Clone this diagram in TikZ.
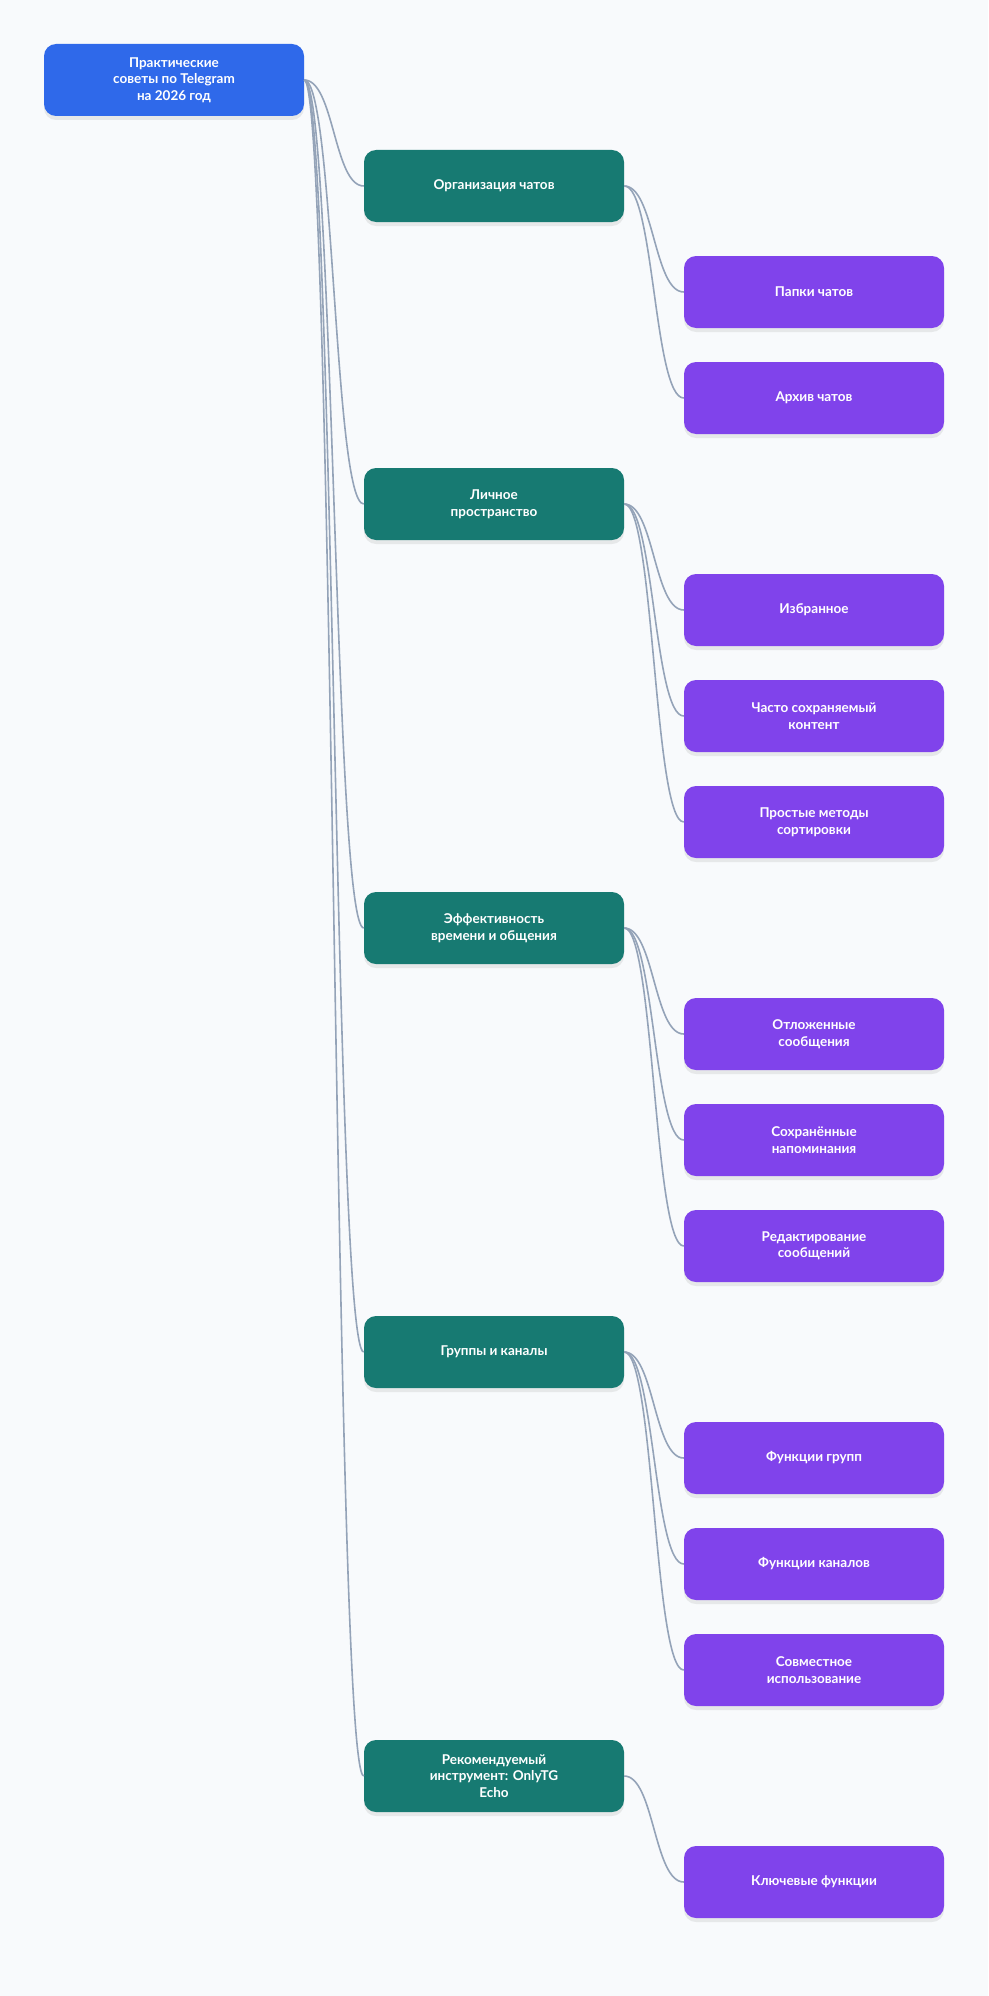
\documentclass[tikz,border=0pt]{standalone}
\usepackage{fontspec}
\setmainfont{Lato}
\usepackage{tikz}
\usetikzlibrary{shadows}
\definecolor{FonFon}{HTML}{F8FAFC}
\definecolor{KorenSiniy}{HTML}{2F69EA}
\definecolor{TemaZel}{HTML}{177A72}
\definecolor{PunktFiol}{HTML}{8043EB}
\definecolor{LiniyaSer}{HTML}{94A3B8}

\tikzset{
  box/.style={rounded corners=12pt,minimum width=260pt,minimum height=72pt,inner sep=0pt,
    text=white,align=center,font=\bfseries\fontsize{13.5}{16.5}\selectfont,
    drop shadow={shadow xshift=0pt,shadow yshift=-4pt,opacity=0.09,fill=black!80}},
  root/.style={box,fill=KorenSiniy},
  tema/.style={box,fill=TemaZel},
  punkt/.style={box,fill=PunktFiol},
  link/.style={draw=LiniyaSer,line width=1.6pt}
}

\begin{document}
\begin{tikzpicture}[x=1pt,y=-1pt]
  \fill[FonFon] (0,0) rectangle (988,1996);
  \useasboundingbox (0,0) rectangle (988,1996);

  % root
  \node[root] (koren) at (174,80) {Практические\\советы по Telegram\\на 2026 год};

  % topics
  \node[tema] (t1) at (494,186)  {Организация чатов};
  \node[tema] (t2) at (494,504)  {Личное\\пространство};
  \node[tema] (t3) at (494,928)  {Эффективность\\времени и общения};
  \node[tema] (t4) at (494,1352) {Группы и каналы};
  \node[tema] (t5) at (494,1776) {Рекомендуемый\\инструмент: OnlyTG\\Echo};

  % items
  \node[punkt] (p11) at (814,292)  {Папки чатов};
  \node[punkt] (p12) at (814,398)  {Архив чатов};
  \node[punkt] (p21) at (814,610)  {Избранное};
  \node[punkt] (p22) at (814,716)  {Часто сохраняемый\\контент};
  \node[punkt] (p23) at (814,822)  {Простые методы\\сортировки};
  \node[punkt] (p31) at (814,1034) {Отложенные\\сообщения};
  \node[punkt] (p32) at (814,1140) {Сохранённые\\напоминания};
  \node[punkt] (p33) at (814,1246) {Редактирование\\сообщений};
  \node[punkt] (p41) at (814,1458) {Функции групп};
  \node[punkt] (p42) at (814,1564) {Функции каналов};
  \node[punkt] (p43) at (814,1670) {Совместное\\использование};
  \node[punkt] (p51) at (814,1882) {Ключевые функции};

  % links
  \foreach \t in {t1,t2,t3,t4,t5}
    \draw[link] (koren.east) .. controls +(30,0) and +(-30,0) .. (\t.west);
  \foreach \t/\p in {t1/p11,t1/p12,t2/p21,t2/p22,t2/p23,t3/p31,t3/p32,t3/p33,
                     t4/p41,t4/p42,t4/p43,t5/p51}
    \draw[link] (\t.east) .. controls +(30,0) and +(-30,0) .. (\p.west);
\end{tikzpicture}
\end{document}
